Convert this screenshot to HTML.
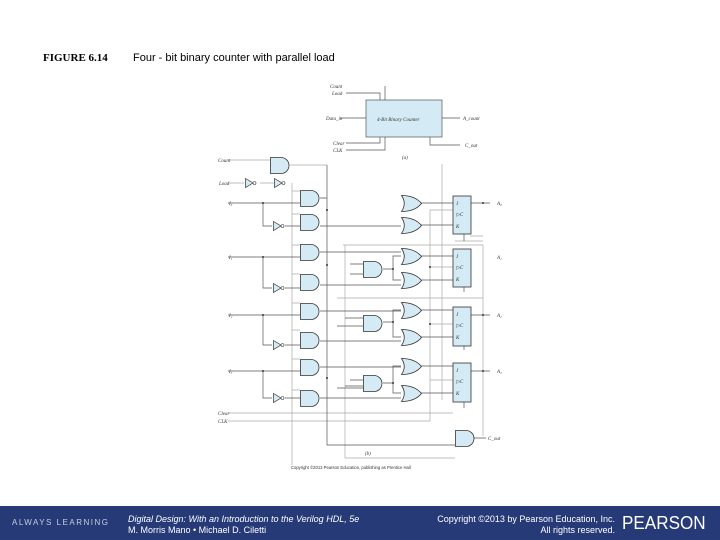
<!DOCTYPE html>
<html><head><meta charset="utf-8"><style>
body{margin:0;width:720px;height:540px;background:#fff;position:relative;overflow:hidden;font-family:"Liberation Sans",sans-serif}
.t{position:absolute;white-space:nowrap}
</style></head><body>
<div class="t" style="left:43px;top:52px;font:bold 11px 'Liberation Serif',serif">FIGURE 6.14</div>
<div class="t" style="left:133px;top:52px;font-size:11px">Four - bit binary counter with parallel load</div>
<svg width="720" height="540" style="position:absolute;left:0;top:0" font-family="Liberation Serif,serif" font-style="italic" font-size="5">
<defs>
<symbol id="and" viewBox="0 0 21 17" overflow="visible"><path d="M0.5,0.5H11A8,8 0 0 1 11,16.5H0.5Z" fill="#d4eaf4" stroke="#333" stroke-width="0.8"/></symbol>
<symbol id="or" viewBox="0 0 21 17" overflow="visible"><path d="M0.5,0.5Q6,8.5 0.5,16.5Q14,16.5 20.5,8.5Q14,0.5 0.5,0.5Z" fill="#d4eaf4" stroke="#333" stroke-width="0.8"/></symbol>
<symbol id="inv" viewBox="0 0 12 10" overflow="visible"><path d="M0.5,0.5L8,5L0.5,9.5Z" fill="#d4eaf4" stroke="#333" stroke-width="0.7"/><circle cx="9.5" cy="5" r="1.5" fill="#fff" stroke="#333" stroke-width="0.6"/></symbol>
</defs>
<g stroke="#555" stroke-width="0.7" fill="none">
<rect x="366" y="100" width="76" height="37" fill="#d4eaf4"/>
<path d="M346,93H380V100M385,86V100M340,118H366M442,118H460M346,143H380V137M346,150H385V137M430,137V145H460"/>
<g stroke="#aaa">
<path d="M228,160H270M228,183H244M260,183H274M290,165H327M292,183H292V465M292,191H300M292,214H300M292,245H300M292,274H300M292,303H300M292,330H300M292,359H300M292,390H300"/>
<path d="M228,413H453M228,421H430V210H453M430,267H453M430,324H453M430,380H453"/>
<path d="M345,245V458H455M343,245H483V436M337,298H483M455,241H483M470,236H483"/>
<path d="M442,164V400"/>
</g>
<path d="M228,203H300M263,203V226H272M285,226H300M228,257H300M263,257V288H272M285,288H300M228,315H300M263,315V345H272M285,345H300M228,371H300M263,371V398H272M285,398H300"/>
<path d="M327,165V445H455M320,198H327M320,226H401M320,252H401M320,285H401M320,311H401M320,341H401M320,367H401M320,398H401"/>
<path d="M350,264H363M350,274H363M345,318H363M337,326H363M350,380H363M345,386H363M337,388H363"/>
<path d="M383,269H393V256H401M393,269V280H401M383,322H393V310H401M393,322V337H401M383,383H393V366H401M393,383V393H401"/>
<path d="M421,203H453M421,225H453M421,256H453M421,280H453M421,310H453M421,337H453M421,366H453M421,393H453"/>
<path d="M471,203H490M471,315H490M471,371H490M464,234V241M464,287V292M464,346V350M464,402V408M473,438H486"/>
</g>
<g fill="#333"><circle cx="263" cy="203" r="1"/><circle cx="263" cy="257" r="1"/><circle cx="263" cy="315" r="1"/><circle cx="263" cy="371" r="1"/><circle cx="327" cy="210" r="1"/><circle cx="327" cy="265" r="1"/><circle cx="327" cy="378" r="1"/><circle cx="393" cy="269" r="1"/><circle cx="393" cy="322" r="1"/><circle cx="393" cy="383" r="1"/><circle cx="483" cy="203" r="1"/><circle cx="483" cy="315" r="1"/><circle cx="483" cy="371" r="1"/><circle cx="430" cy="267" r="1"/><circle cx="430" cy="324" r="1"/></g>
<use href="#and" x="270" y="157" width="21" height="17"/>
<use href="#inv" x="245" y="178" width="12" height="10"/>
<use href="#inv" x="274" y="178" width="12" height="10"/>
<use href="#inv" x="273" y="221" width="12" height="10"/>
<use href="#inv" x="273" y="283" width="12" height="10"/>
<use href="#inv" x="273" y="340" width="12" height="10"/>
<use href="#inv" x="273" y="393" width="12" height="10"/>
<use href="#and" x="300" y="190" width="21" height="17"/>
<use href="#and" x="300" y="214" width="21" height="17"/>
<use href="#and" x="300" y="244" width="21" height="17"/>
<use href="#and" x="300" y="274" width="21" height="17"/>
<use href="#and" x="300" y="303" width="21" height="17"/>
<use href="#and" x="300" y="332" width="21" height="17"/>
<use href="#and" x="300" y="359" width="21" height="17"/>
<use href="#and" x="300" y="390" width="21" height="17"/>
<use href="#and" x="363" y="261" width="21" height="17"/>
<use href="#and" x="363" y="315" width="21" height="17"/>
<use href="#and" x="363" y="375" width="21" height="17"/>
<use href="#or" x="401" y="195" width="21" height="17"/>
<use href="#or" x="401" y="217" width="21" height="17"/>
<use href="#or" x="401" y="248" width="21" height="17"/>
<use href="#or" x="401" y="272" width="21" height="17"/>
<use href="#or" x="401" y="302" width="21" height="17"/>
<use href="#or" x="401" y="329" width="21" height="17"/>
<use href="#or" x="401" y="358" width="21" height="17"/>
<use href="#or" x="401" y="385" width="21" height="17"/>
<use href="#and" x="455" y="430" width="21" height="17"/>
<g fill="#d4eaf4" stroke="#333" stroke-width="0.8"><rect x="453" y="196" width="18" height="38"/><rect x="453" y="249" width="18" height="38"/><rect x="453" y="307" width="18" height="39"/><rect x="453" y="363" width="18" height="39"/></g>
<g fill="#333">
<text x="456" y="205">J</text><text x="456" y="216">▷C</text><text x="456" y="228">K</text>
<text x="456" y="258">J</text><text x="456" y="269">▷C</text><text x="456" y="281">K</text>
<text x="456" y="316">J</text><text x="456" y="327">▷C</text><text x="456" y="339">K</text>
<text x="456" y="372">J</text><text x="456" y="383">▷C</text><text x="456" y="395">K</text>
<text x="330" y="88">Count</text><text x="332" y="95">Load</text><text x="326" y="120">Data_in</text><text x="377" y="121">4-Bit Binary Counter</text><text x="463" y="120">A_count</text>
<text x="333" y="145">Clear</text><text x="333" y="152">CLK</text><text x="465" y="147">C_out</text><text x="402" y="159">(a)</text>
<text x="218" y="162">Count</text><text x="219" y="185">Load</text><text x="229" y="205">I₀</text><text x="229" y="259">I₁</text><text x="229" y="317">I₂</text><text x="229" y="373">I₃</text>
<text x="218" y="415">Clear</text><text x="218" y="423">CLK</text>
<text x="497" y="205">A₀</text><text x="497" y="259">A₁</text><text x="497" y="317">A₂</text><text x="497" y="373">A₃</text><text x="488" y="440">C_out</text>
<text x="365" y="455">(b)</text>
<text x="291" y="469" font-style="normal" font-family="Liberation Sans,sans-serif" font-size="4.2">Copyright ©2013 Pearson Education, publishing as Prentice Hall</text>
</g>
</svg>
<div style="position:absolute;left:0;top:506px;width:720px;height:34px;background:#263a78"></div>
<div class="t" style="left:12px;top:518px;font-size:8px;color:#c8cce0;letter-spacing:1.5px">ALWAYS LEARNING</div>
<div class="t" style="left:128px;top:514px;font-size:9px;color:#fff;font-style:italic">Digital Design: With an Introduction to the Verilog HDL, 5e</div>
<div class="t" style="left:128px;top:525px;font-size:9px;color:#fff">M. Morris Mano • Michael D. Ciletti</div>
<div class="t" style="left:413px;top:514px;font-size:9px;color:#fff;text-align:right;width:202px;line-height:11px">Copyright ©2013 by Pearson Education, Inc.<br>All rights reserved.</div>
<div class="t" style="left:622px;top:513px;font-size:18px;color:#fff;transform:scaleX(0.95);transform-origin:left">PEARSON</div>
</body></html>
